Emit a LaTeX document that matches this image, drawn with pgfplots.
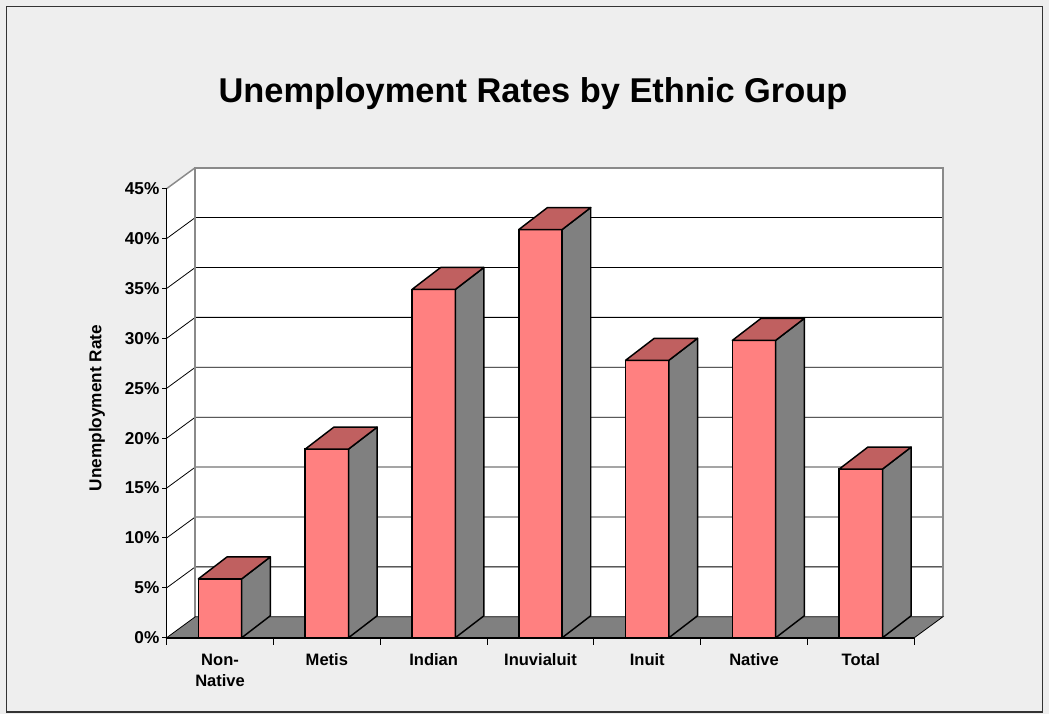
\documentclass[border=0pt]{standalone}
\usepackage{fontspec}
\setmainfont{Liberation Sans}
\usepackage{pgfplots}
\usepackage{pgfplotstable}
\pgfplotsset{compat=1.18}
\definecolor{bg}{HTML}{EEEEEE}
\definecolor{frontc}{HTML}{FF8080}
\definecolor{topc}{HTML}{C06060}
\definecolor{sidec}{HTML}{808080}
\definecolor{wallc}{HTML}{8A8A8A}

\pgfplotstableread{
x v
0.5 5.9
1.5 18.9
2.5 34.9
3.5 40.9
4.5 27.8
5.5 29.8
6.5 16.9
}\datatable

\def\dx{0.268}
\def\dy{2.2}
\def\fdy{2.1}
\def\hw{0.2027}

\begin{document}
\begin{tikzpicture}
\begin{scope}[x=0.75pt,y=0.75pt]
  \fill[bg] (0,0) rectangle (1049,714);
  \draw[black!80, line width=1.3pt] (6.5,1.8) rectangle (1042.5,707.5);
  \node[anchor=base, font=\bfseries\fontsize{25.8}{30}\selectfont] at (533,611.5) {Unemployment Rates by Ethnic Group};
  \node[rotate=90, font=\bfseries\fontsize{12.9}{15}\selectfont] at (97,306) {Unemployment Rate};
\end{scope}
\begin{axis}[
  at={(125.0pt,57.2pt)}, anchor=south west,
  x=80.1pt, y=7.485pt,
  xmin=0, xmax=7, ymin=0, ymax=45,
  enlargelimits=false,
  axis x line*=bottom, axis y line*=left,
  x axis line style={black, line width=1.4pt},
  y axis line style={black, line width=0.8pt},
  clip=false, axis on top,
  ytick={0,5,...,45},
  yticklabels={0\%,5\%,10\%,15\%,20\%,25\%,30\%,35\%,40\%,45\%},
  xtick={0.5,1.5,2.5,3.5,4.5,5.5,6.5},
  xticklabels={{Non-\\Native},Metis,Indian,Inuvialuit,Inuit,Native,Total},
  xtick style={draw=none}, ytick style={draw=none},
  yticklabel style={anchor=east, inner sep=0pt, xshift=-5.3pt, font=\bfseries\fontsize{12.9}{15.5}\selectfont},
  xticklabel style={anchor=north, inner sep=0pt, yshift=-12.0pt, align=center, font=\bfseries\fontsize{12.4}{15.5}\selectfont},
]
% walls
\fill[white] (axis cs:0,0) -- (axis cs:0,45) -- (axis cs:0.268,47.1) -- (axis cs:0.268,2.1) -- cycle;
\fill[white] (axis cs:0.268,2.1) rectangle (axis cs:7.268,47.1);
% grid lines
\pgfplotsinvokeforeach{5,10,15,20,25,30,35,40}{
  \pgfmathsetmacro\gy{#1+\fdy}
  \edef\gridcmd{\noexpand\draw[black, line width=0.6pt] (axis cs:0,#1) -- (axis cs:\dx,\gy) -- (axis cs:7.268,\gy);}
  \gridcmd
}
\draw[wallc, line width=1.3pt] (axis cs:0.268,2.1) -- (axis cs:0.268,47.1) -- (axis cs:7.268,47.1) -- (axis cs:7.268,2.1);
\draw[wallc, line width=1.1pt] (axis cs:0,45) -- (axis cs:0.268,47.1);
% floor
\filldraw[fill=sidec, draw=black, line width=0.6pt] (axis cs:0,0) -- (axis cs:7,0) -- (axis cs:7.268,2.1) -- (axis cs:0.268,2.1) -- cycle;
% ticks
\pgfplotsinvokeforeach{0,5,10,15,20,25,30,35,40,45}{
  \draw[black, line width=0.75pt] (axis cs:0,#1) -- ++(-3.8pt,0pt);
}
\pgfplotsinvokeforeach{0,1,2,3,4,5,6,7}{
  \draw[black, line width=0.75pt] (axis cs:#1,0) -- ++(0pt,-5.6pt);
}
% bars: front faces
\addplot[ybar, bar width=0.4054, fill=frontc, draw=black, line width=1.1pt] table[x=x,y=v] {\datatable};
% bars: side and top faces
\pgfplotsinvokeforeach{0,1,2,3,4,5,6}{
  \pgfplotstablegetelem{#1}{x}\of\datatable \let\cx\pgfplotsretval
  \pgfplotstablegetelem{#1}{v}\of\datatable \let\cv\pgfplotsretval
  \pgfmathsetmacro\xl{\cx-\hw}
  \pgfmathsetmacro\xr{\cx+\hw}
  \pgfmathsetmacro\xlb{\cx-\hw+\dx}
  \pgfmathsetmacro\xrb{\cx+\hw+\dx}
  \pgfmathsetmacro\vb{\cv+\dy}
  \edef\barfaces{%
    \noexpand\filldraw[fill=sidec, draw=black, line width=1.1pt, line join=round] (axis cs:\xr,0) -- (axis cs:\xrb,\dy) -- (axis cs:\xrb,\vb) -- (axis cs:\xr,\cv) -- cycle;
    \noexpand\filldraw[fill=topc, draw=black, line width=1.1pt, line join=round] (axis cs:\xl,\cv) -- (axis cs:\xr,\cv) -- (axis cs:\xrb,\vb) -- (axis cs:\xlb,\vb) -- cycle;
  }
  \barfaces
}
\end{axis}
\end{tikzpicture}
\end{document}
